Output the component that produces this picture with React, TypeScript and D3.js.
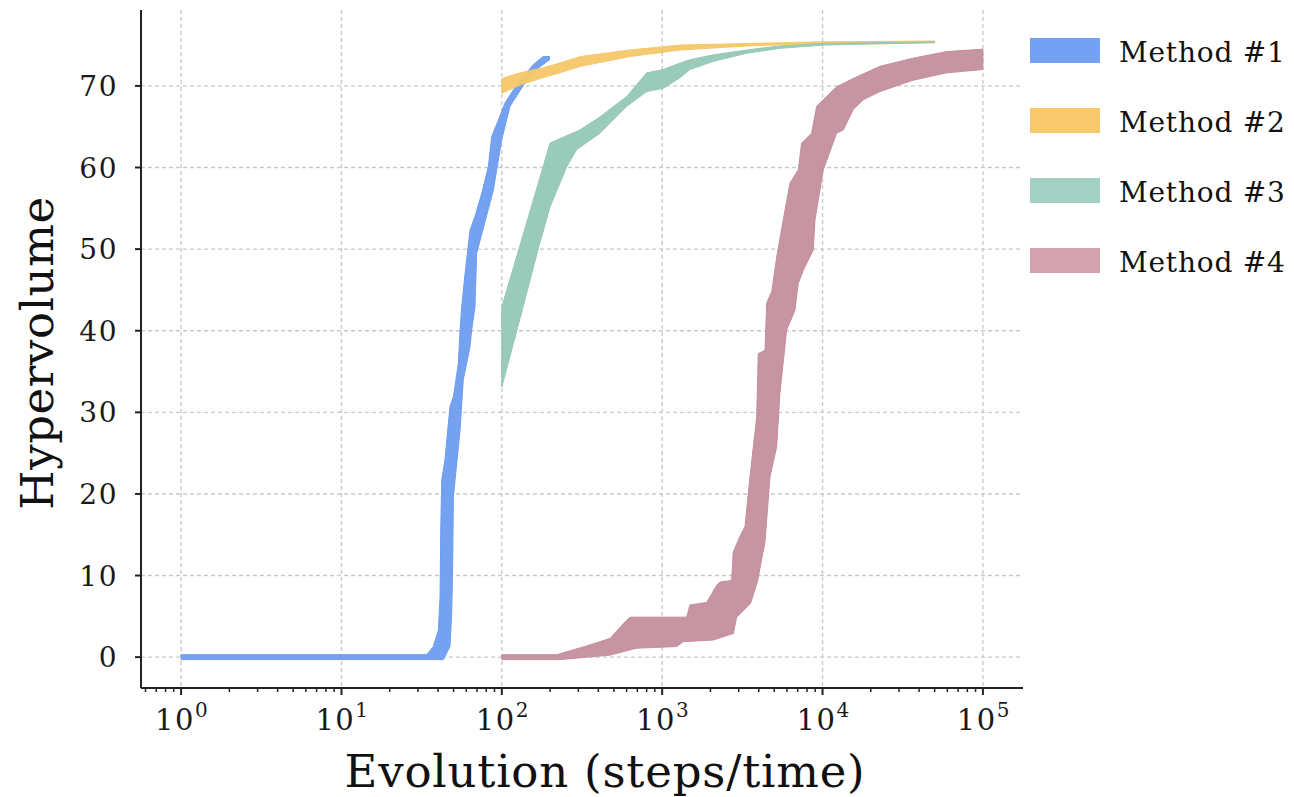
import React from "react";
import * as d3 from "d3";

type P = [number, number];

// ---- Data (x = evolution steps, y = hypervolume) ----
const seriesNames = ["Method #1", "Method #2", "Method #3", "Method #4"];
const plotColors = ["#6d9df0", "#f6c768", "#95c8b6", "#c48e9c"];
const legendColors = ["#72a1f5", "#f8c96c", "#a2d0c2", "#d4a1ae"];

const m1Upper: P[] = [[1, 0.3], [34, 0.3], [37.4, 1.3], [40.2, 3.3], [41.2, 7.4], [41.6, 15.6], [42.2, 21.7], [44.2, 24.2], [47.5, 30.7], [49.9, 31.9], [53.6, 36.0], [54.9, 40.1], [56.2, 42.9], [59.0, 47.0], [63.3, 52.3], [68.0, 54.0], [74.9, 56.8], [82.4, 60.1], [86.5, 63.8], [95.1, 65.8], [104.7, 67.9], [118, 69.5], [136, 71.1], [157, 72.6], [181, 73.6], [198, 73.6]];
const m1Lower: P[] = [[1, -0.3], [43.2, -0.3], [47.5, 1.3], [48.7, 5.4], [49.4, 11.5], [49.9, 19.7], [52.3, 23.7], [54.9, 27.8], [57.5, 34.0], [63.3, 38.0], [64.9, 40.1], [68.0, 42.9], [69.7, 49.5], [88.5, 57.2], [99.8, 63.4], [112.5, 67.5], [143, 70.7], [169, 72.2], [198, 73.2]];

const m2Upper: P[] = [[100, 70.9], [130, 71.6], [180, 72.2], [230, 72.8], [310, 73.6], [630, 74.4], [1300, 75.0], [3400, 75.2], [10000, 75.4], [50000, 75.5]];
const m2Lower: P[] = [[100, 69.1], [130, 70.1], [180, 71.0], [230, 71.6], [310, 72.4], [630, 73.6], [1300, 74.4], [3400, 74.9], [10000, 75.2], [50000, 75.3]];

const m3Upper: P[] = [[100, 42.9], [200, 63.0], [307, 64.6], [409, 66.2], [601, 68.7], [800, 71.6], [1016, 72.0], [1291, 72.8], [1490, 73.2], [2073, 73.8], [3363, 74.4], [5420, 74.9], [10050, 75.2], [50000, 75.4]];
const m3Lower: P[] = [[100, 33.1], [124, 40.0], [168, 49.9], [200, 55.2], [254, 60.1], [293, 62.2], [409, 64.2], [601, 67.5], [800, 69.3], [1016, 69.7], [1291, 71.0], [1490, 72.0], [2073, 73.0], [3363, 74.0], [5420, 74.6], [10050, 75.0], [50000, 75.3]];

const m4Upper: P[] = [[100, 0.3], [220, 0.3], [355, 1.5], [473, 2.3], [572, 4.1], [630, 4.9], [1421, 4.9], [1490, 6.4], [1893, 6.7], [2186, 8.8], [2293, 9.2], [2711, 9.4], [2775, 12.9], [3055, 14.8], [3283, 16.0], [3527, 22.1], [3883, 29.4], [3974, 37.2], [4375, 37.6], [4484, 43.4], [4820, 44.8], [5176, 49.0], [5690, 53.6], [6266, 58.1], [7052, 59.7], [7407, 63.0], [8554, 64.2], [9188, 67.5], [10610, 68.7], [12240, 69.9], [15530, 70.9], [22780, 72.4], [36760, 73.4], [59370, 74.2], [100000, 74.5]];
const m4Lower: P[] = [[100, -0.3], [231, -0.3], [473, 0.25], [693, 1.1], [1231, 1.3], [1355, 1.9], [2083, 2.1], [2775, 2.9], [2913, 4.9], [3557, 6.6], [3920, 9.2], [4375, 14.1], [4702, 22.1], [5176, 25.8], [5420, 32.3], [5971, 40.1], [6730, 42.5], [7052, 45.8], [7586, 47.4], [8750, 49.9], [8975, 53.6], [10100, 59.7], [12240, 64.2], [13460, 64.6], [15530, 67.1], [17950, 68.3], [22780, 69.3], [36760, 70.7], [59370, 71.6], [100000, 72.0]];

const bands = [
  { upper: m1Upper, lower: m1Lower },
  { upper: m2Upper, lower: m2Lower },
  { upper: m3Upper, lower: m3Lower },
  { upper: m4Upper, lower: m4Lower },
];

const xMajorExps = [0, 1, 2, 3, 4, 5];
const yTicks = [0, 10, 20, 30, 40, 50, 60, 70];
const xLabel = "Evolution (steps/time)";
const yLabel = "Hypervolume";

const W = 1294;
const H = 797;
const L = 141, R = 1023, T = 10, B = 688;
const FONT = "'DejaVu Serif', serif";

export default function App() {
  const x = d3.scaleLog().domain([Math.pow(10, -0.25), Math.pow(10, 5.25)]).range([L, R]);
  const y = d3.scaleLinear().domain([-3.78, 79.3]).range([B, T]);

  const line = d3.line<P>().x((d) => x(d[0])).y((d) => y(d[1]));
  const bandPath = (u: P[], l: P[]) => line([...u, ...l.slice().reverse()]) + "Z";

  const minorTicks: number[] = [];
  for (let e = -1; e <= 5; e++) {
    for (let k = 2; k <= 9; k++) {
      const v = k * Math.pow(10, e);
      if (x(v) >= L && x(v) <= R) minorTicks.push(v);
    }
  }

  return (
    <svg width={W} height={H} style={{ position: "absolute", left: 0, top: 0, background: "#fff" }}>
      {/* grid */}
      <g stroke="#c9c9c9" strokeWidth={1.4} strokeDasharray="4 3">
        {xMajorExps.map((e) => (
          <line key={"gx" + e} x1={x(Math.pow(10, e))} x2={x(Math.pow(10, e))} y1={T} y2={B} />
        ))}
        {yTicks.map((t) => (
          <line key={"gy" + t} x1={L} x2={R} y1={y(t)} y2={y(t)} />
        ))}
      </g>
      {/* bands */}
      {bands.map((b, i) => (
        <path
          key={"band" + i}
          d={bandPath(b.upper, b.lower)}
          fill={plotColors[i]}
          stroke={plotColors[i]}
          strokeWidth={1}
          strokeLinejoin="round"
          fillOpacity={0.95}
        />
      ))}
      {/* spines */}
      <line x1={L} x2={L} y1={T} y2={B} stroke="#222" strokeWidth={2} />
      <line x1={L} x2={R} y1={B} y2={B} stroke="#222" strokeWidth={2} />
      {/* y ticks */}
      {yTicks.map((t) => (
        <g key={"yt" + t}>
          <line x1={L - 6} x2={L} y1={y(t)} y2={y(t)} stroke="#222" strokeWidth={2} />
          <text x={L - 23} y={y(t)} dy="0.36em" textAnchor="end" fontFamily={FONT} fontSize={28} letterSpacing={1.5} fill="#1a1a1a">
            {t}
          </text>
        </g>
      ))}
      {/* x ticks */}
      {minorTicks.map((v, i) => (
        <line key={"mx" + i} x1={x(v)} x2={x(v)} y1={B} y2={B + 4} stroke="#222" strokeWidth={1.5} />
      ))}
      {xMajorExps.map((e) => (
        <g key={"xt" + e}>
          <line x1={x(Math.pow(10, e))} x2={x(Math.pow(10, e))} y1={B} y2={B + 7} stroke="#222" strokeWidth={2} />
          <text x={x(Math.pow(10, e)) + 1} y={730} textAnchor="middle" fontFamily={FONT} fontSize={29} letterSpacing={1.5} fill="#1a1a1a">
            <tspan>10</tspan>
            <tspan dy={-13} fontSize={20}>{e}</tspan>
          </text>
        </g>
      ))}
      {/* axis titles */}
      <text x={605} y={787} textAnchor="middle" fontFamily={FONT} fontSize={45} letterSpacing={0.8} fill="#111">
        {xLabel}
      </text>
      <text
        transform={`translate(53, ${353}) rotate(-90)`}
        textAnchor="middle"
        fontFamily={FONT}
        fontSize={45}
        letterSpacing={0.6}
        fill="#111"
      >
        {yLabel}
      </text>
      {/* legend */}
      {seriesNames.map((n, i) => (
        <g key={"lg" + i} transform={`translate(1030, ${38 + i * 70})`}>
          <rect x={0} y={0} width={70} height={25} fill={legendColors[i]} />
          <text x={89} y={24} fontFamily={FONT} fontSize={28} letterSpacing={0.8} fill="#111">
            {n}
          </text>
        </g>
      ))}
    </svg>
  );
}
